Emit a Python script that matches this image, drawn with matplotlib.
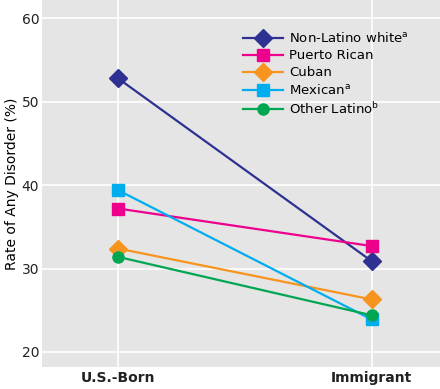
import matplotlib
matplotlib.use("Agg")
import matplotlib.pyplot as plt

# groups and rates
groups = ["U.S.-Born", "Immigrant"]
labels = ["Non-Latino white$^{\\mathregular{a}}$", "Puerto Rican", "Cuban",
          "Mexican$^{\\mathregular{a}}$", "Other Latino$^{\\mathregular{b}}$"]
nonlatino_white = [52.8, 30.9]
puerto_rican = [37.2, 32.7]
cuban = [32.4, 26.3]
mexican = [39.4, 23.9]
other_latino = [31.4, 24.4]

series = [nonlatino_white, puerto_rican, cuban, mexican, other_latino]
colors = ["#2E3192", "#EC008C", "#F7941D", "#00AEEF", "#00A651"]
markers = ["D", "s", "D", "s", "o"]
sizes = [9, 8.5, 9, 8.5, 8]

fig = plt.figure(figsize=(4.4, 3.89), dpi=100)
ax = fig.add_axes([0.0955, 0.0566, 0.9045, 0.9434])
ax.set_facecolor("#E5E5E5")

x = [0, 1]
for vals, lab, c, m, s in zip(series, labels, colors, markers, sizes):
    ax.plot(x, vals, color=c, marker=m, markersize=s, linewidth=1.6, label=lab)

ax.set_xlim(-0.30, 1.27)
ax.set_ylim(18.2, 62.2)
ax.set_yticks([20, 30, 40, 50, 60])
ax.set_xticks(x)
ax.set_xticklabels(groups, fontweight="bold", fontsize=10)
ax.tick_params(length=0, labelsize=10, colors="#222222")
ax.tick_params(axis="x", pad=3)
ax.tick_params(axis="y", pad=2)
ax.grid(True, color="white", linewidth=1.2)
ax.set_axisbelow(True)
for sp in ax.spines.values():
    sp.set_visible(False)
ax.set_ylabel("Rate of Any Disorder (%)", fontsize=10, labelpad=2)

leg = ax.legend(loc="upper right", bbox_to_anchor=(0.945, 0.94), frameon=False,
                fontsize=9.5, handlelength=3.0, handletextpad=0.5,
                labelspacing=0.3, borderaxespad=0.3)

fig.savefig("out.png", dpi=100)
